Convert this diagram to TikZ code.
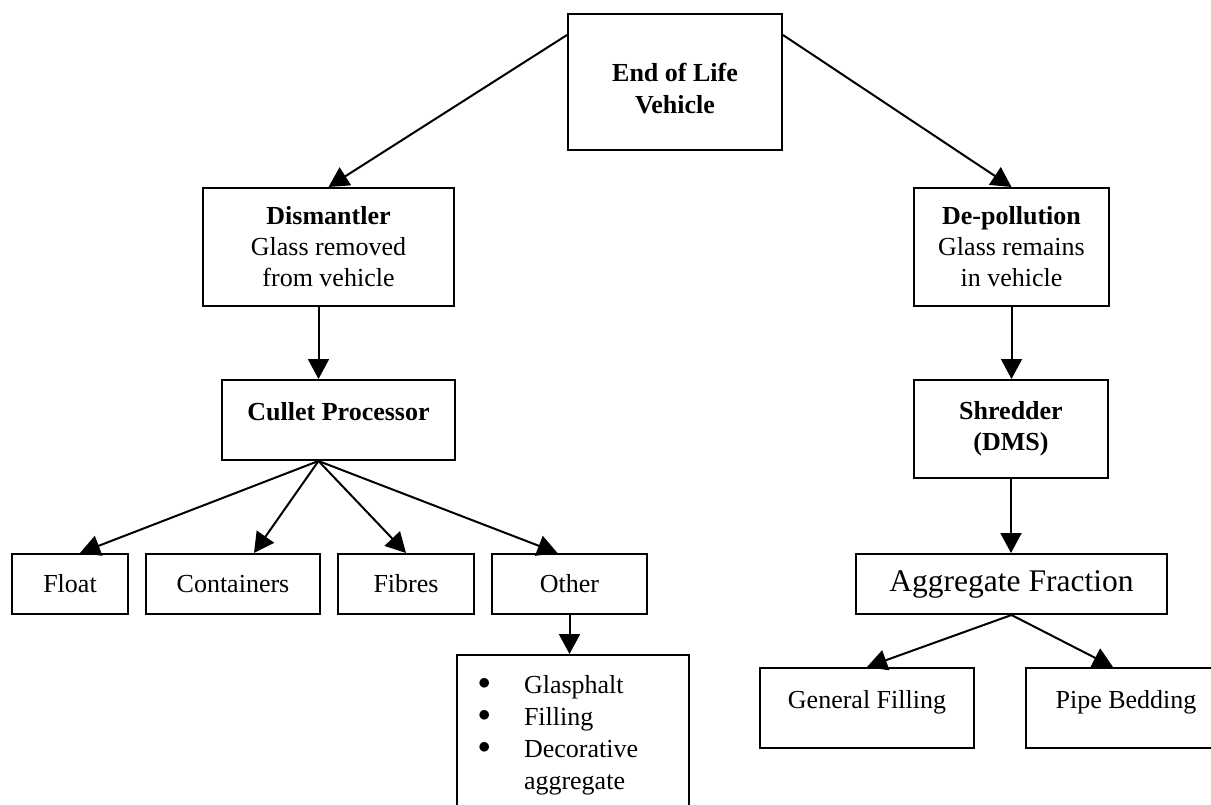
\documentclass[tikz,border=0pt]{standalone}
\usepackage{fontspec}
\setmainfont{Liberation Serif}
\usetikzlibrary{arrows.meta,positioning,calc}

\newcommand{\usebullet}{\makebox[46pt][l]{\raisebox{3.5pt}{$\bullet$}}}

\begin{document}
\begin{tikzpicture}[x=1pt,y=-1pt,
    box/.style={draw,line width=2pt,inner sep=0pt,align=center,font=\fontsize{26}{31}\selectfont},
    arr/.style={line width=2pt,-{Triangle[length=20pt,width=21pt]}}]
  \useasboundingbox (0,0) rectangle (1211,805);
  % top of the tree
  \node[box,minimum width=214pt,minimum height=136pt,text height=63pt,font=\fontsize{26}{32}\selectfont\bfseries] (elv) at (675,82) {End of Life\\Vehicle};
  \node[box,minimum width=251pt,minimum height=118pt] (dism) at (328.5,247) {\textbf{Dismantler}\\Glass removed\\from vehicle};
  \node[box,minimum width=195pt,minimum height=118pt] (depol) at (1011.5,247) {\textbf{De-pollution}\\Glass remains\\in vehicle};
  % left branch
  \node[box,minimum width=233pt,minimum height=80pt,text depth=18pt,font=\fontsize{26}{31}\selectfont\bfseries] (cullet) at (338.5,420) {Cullet Processor};
  \node[box,minimum width=116pt,minimum height=60pt] (float) at (70,584) {Float};
  \node[box,minimum width=174pt,minimum height=60pt] (cont) at (233,584) {Containers};
  \node[box,minimum width=136pt,minimum height=60pt] (fibres) at (406,584) {Fibres};
  \node[box,minimum width=155pt,minimum height=60pt] (other) at (569.5,584) {Other};
  \node[box,anchor=north west,align=left,text width=190pt,inner xsep=21pt,inner ysep=20pt,font=\fontsize{26}{32}\selectfont] (uses) at (456,654)
    {\usebullet Glasphalt\\\usebullet Filling\\\usebullet Decorative\\\hspace*{46pt}aggregate};
  % right branch
  \node[box,minimum width=194pt,minimum height=98pt,font=\fontsize{26}{31}\selectfont\bfseries] (shred) at (1011,429) {Shredder\\(DMS)};
  \node[box,minimum width=311pt,minimum height=60pt,font=\fontsize{31.5}{36}\selectfont] (aggr) at (1011.5,584) {Aggregate Fraction};
  \node[box,minimum width=214pt,minimum height=80pt,text depth=17pt] (genfill) at (867,708) {General Filling};
  \node[box,minimum width=200pt,minimum height=80pt,text depth=17pt] (pipe) at (1126,708) {Pipe Bedding};

  % connectors
  \draw[arr] ([yshift=-22pt]elv.north west) -- (dism.north);
  \draw[arr] ([yshift=-22pt]elv.north east) -- (depol.north);
  \coordinate (dfoot) at ([xshift=-10pt]dism.south);
  \draw[arr] (dfoot) -- (dfoot |- cullet.north);
  \coordinate (cfoot) at ([xshift=-20pt]cullet.south);
  \foreach \n/\s in {float/10,cont/21,fibres/0,other/-12}
    \draw[arr] (cfoot) -- ([xshift=\s pt]\n.north);
  \draw[arr] (other.south) -- (other.south |- uses.north);
  \draw[arr] (depol.south) -- (depol.south |- shred.north);
  \draw[arr] (shred.south) -- (shred.south |- aggr.north);
  \draw[arr] (aggr.south) -- (genfill.north);
  \draw[arr] (aggr.south) -- ([xshift=-13pt]pipe.north);
\end{tikzpicture}
\end{document}
